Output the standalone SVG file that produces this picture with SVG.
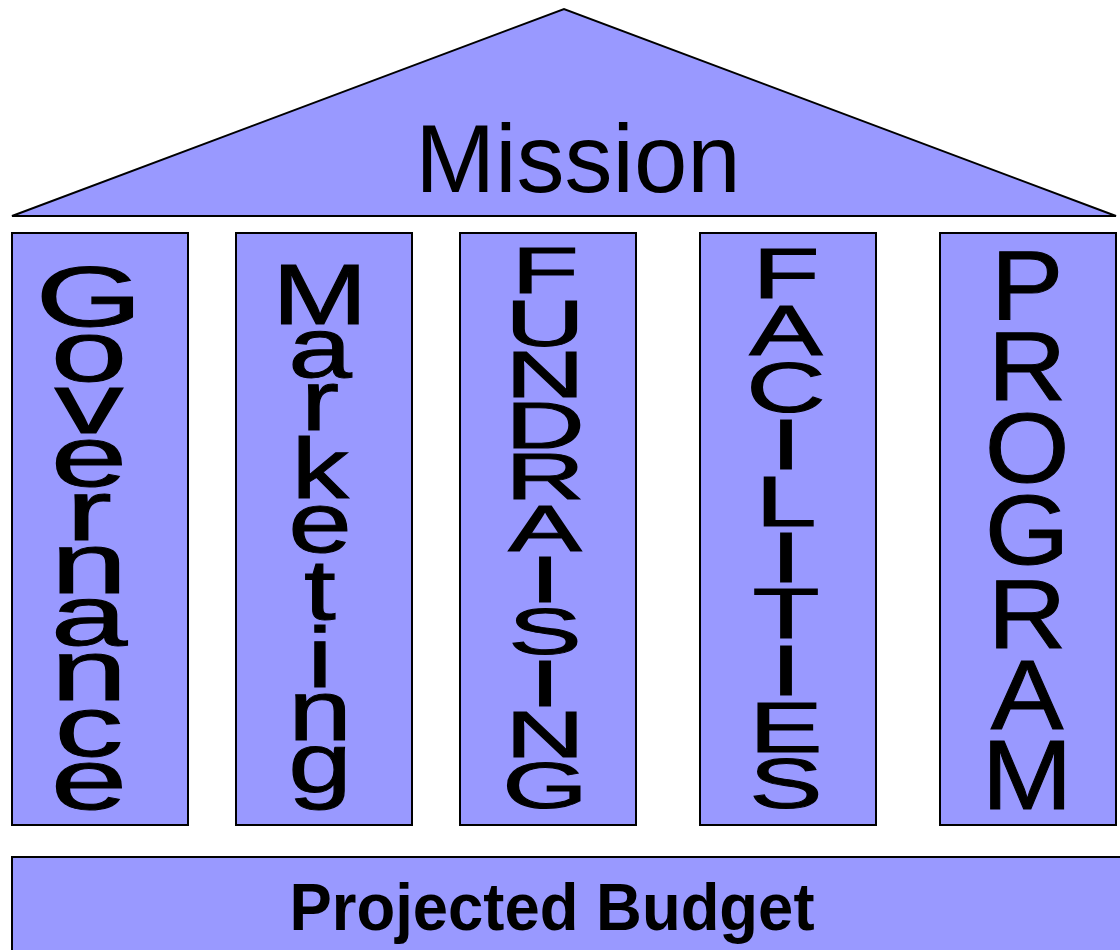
<svg xmlns="http://www.w3.org/2000/svg" width="1120" height="950" viewBox="0 0 1120 950">
<style>
.shape{fill:#9999FF;stroke:#000;stroke-width:2}
.t{font-family:"Liberation Sans",Arial,sans-serif;fill:#000;text-anchor:middle}
.v{stroke:#000;stroke-width:1}
.b{font-weight:bold}
</style>
<rect width="1120" height="950" fill="#fff"/>
<g id="roof">
<polygon class="shape" points="12,216 564,9 1116,216"/>
<text class="t" x="578" y="192" font-size="96">Mission</text>
</g>
<g id="governance">
<rect class="shape" x="12" y="233" width="176" height="592"/>
<g transform="translate(89,0) scale(1.6,1)"><text class="t v" font-size="86">
<tspan x="0" y="326">G</tspan><tspan x="0" y="381">o</tspan><tspan x="0" y="433">v</tspan><tspan x="0" y="486">e</tspan><tspan x="0" y="540">r</tspan><tspan x="0" y="593">n</tspan><tspan x="0" y="645">a</tspan><tspan x="0" y="700">n</tspan><tspan x="0" y="756">c</tspan><tspan x="0" y="809">e</tspan>
</text></g>
</g>
<g id="marketing">
<rect class="shape" x="236" y="233" width="176" height="592"/>
<g transform="translate(320,0) scale(1.33,1)"><text class="t v" font-size="86">
<tspan x="0" y="324">M</tspan><tspan x="0" y="377">a</tspan><tspan x="0" y="430">r</tspan><tspan x="0" y="498">k</tspan><tspan x="0" y="552">e</tspan><tspan x="0" y="619">t</tspan><tspan x="0" y="687">i</tspan><tspan x="0" y="740">n</tspan><tspan x="0" y="792">g</tspan>
</text></g>
</g>
<g id="fundraising">
<rect class="shape" x="460" y="233" width="176" height="592"/>
<g transform="translate(545,0) scale(1.72,1)"><text class="t v" font-size="64">
<tspan x="0" y="293">F</tspan><tspan x="0" y="346">U</tspan><tspan x="0" y="397">N</tspan><tspan x="0" y="448">D</tspan><tspan x="0" y="499">R</tspan><tspan x="0" y="551">A</tspan><tspan x="0" y="602">I</tspan><tspan x="0" y="654">S</tspan><tspan x="0" y="706">I</tspan><tspan x="0" y="757">N</tspan><tspan x="0" y="808">G</tspan>
</text></g>
</g>
<g id="facilities">
<rect class="shape" x="700" y="233" width="176" height="592"/>
<g transform="translate(786,0) scale(1.57,1)"><text class="t v" font-size="70">
<tspan x="0" y="298">F</tspan><tspan x="0" y="355">A</tspan><tspan x="0" y="412">C</tspan><tspan x="0" y="469">I</tspan><tspan x="0" y="526">L</tspan><tspan x="0" y="582">I</tspan><tspan x="0" y="638">T</tspan><tspan x="0" y="695">I</tspan><tspan x="0" y="752">E</tspan><tspan x="0" y="808">S</tspan>
</text></g>
</g>
<g id="program">
<rect class="shape" x="940" y="233" width="176" height="592"/>
<g transform="translate(1027,0) scale(1.1,1)"><text class="t v" font-size="99">
<tspan x="0" y="319">P</tspan><tspan x="0" y="400">R</tspan><tspan x="0" y="482">O</tspan><tspan x="0" y="564">G</tspan><tspan x="0" y="648">R</tspan><tspan x="0" y="729">A</tspan><tspan x="0" y="809">M</tspan>
</text></g>
</g>
<g id="budget">
<rect class="shape" x="12" y="857" width="1120" height="110"/>
<text class="t b" x="552" y="930" font-size="67" textLength="525" lengthAdjust="spacingAndGlyphs">Projected Budget</text>
</g>
<g id="connectors"/>
</svg>
